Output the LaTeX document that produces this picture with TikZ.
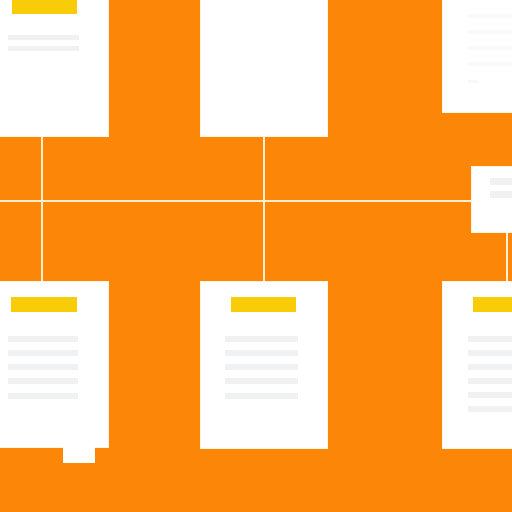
\documentclass[tikz,border=0pt]{standalone}
\usepackage{tikz}
\usetikzlibrary{positioning}
\definecolor{bgorange}{RGB}{251,134,8}
\definecolor{baryellow}{RGB}{249,204,10}
\definecolor{linegray}{RGB}{240,241,243}
\definecolor{linkcream}{RGB}{255,238,205}

\begin{document}
\begin{tikzpicture}[x=1pt,y=-1pt,
  card/.style={draw=linkcream!60!white, line width=0.6pt, fill=white, inner sep=0pt, anchor=north west},
  link/.style={draw=linkcream, line width=1.5pt},
  textline/.style={fill=linegray}]
\useasboundingbox (0,0) rectangle (512,512);
\clip (0,0) rectangle (512,512);
\fill[bgorange] (0,0) rectangle (512,512);

% cards
\node[card, minimum width=113pt, minimum height=141pt] (tl) at (-5,-5) {};
\node[card, minimum width=127pt, minimum height=141pt] (tm) at (200,-5) {};
\node[card, minimum width=75pt, minimum height=117pt] (tr) at (442,-5) {};
\node[card, minimum width=46pt, minimum height=66pt] (sb) at (471,166) {};
\node[card, minimum width=113pt, minimum height=166pt] (bl) at (-5,281) {};
\node[card, minimum width=127pt, minimum height=167pt] (bm) at (200,281) {};
\node[card, minimum width=75pt, minimum height=167pt] (br) at (442,281) {};
\fill[white] (63,446) rectangle (95,463);

% headers
\fill[baryellow] (12,-5) rectangle (77,14);
\fill[baryellow] (11,297) rectangle (77,312);
\fill[baryellow] (231,297) rectangle (296,312);
\fill[baryellow] (473,297) rectangle (517,312);

% text lines
\fill[textline] (8,35) rectangle (79,40);
\fill[textline] (8,46) rectangle (79,51);
\foreach \y in {14,30,46,62} \fill[linegray!40!white] (468,\y) rectangle (517,\y+4);
\fill[linegray!40!white] (468,80) rectangle (478,83);
\fill[textline] (490,178) rectangle (517,185);
\fill[textline] (490,191) rectangle (517,198);
\foreach \y in {336,350,364,378,393} {
  \fill[textline] (8,\y) rectangle (78,\y+6);
  \fill[textline] (225,\y) rectangle (298,\y+6);
}
\foreach \y in {336,350,364,378,392,406} \fill[textline] (468,\y) rectangle (517,\y+6);

% connectors
\coordinate (hl) at (0,201);
\coordinate (v1) at (42,0);
\coordinate (v2) at (264,0);
\coordinate (v3) at (507,0);
\draw[link] (hl) -- (hl -| sb.west);
\draw[link] (tl.south -| v1) -- (bl.north -| v1);
\draw[link] (tm.south -| v2) -- (bm.north -| v2);
\draw[link] (sb.south -| v3) -- (br.north -| v3);
\end{tikzpicture}
\end{document}
